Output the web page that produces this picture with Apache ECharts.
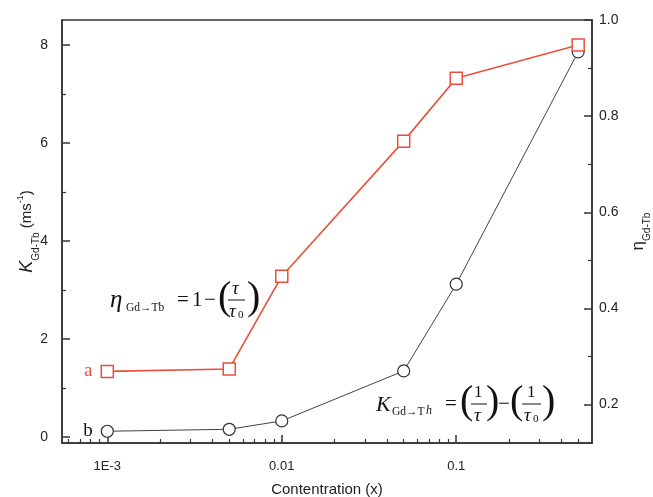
<!DOCTYPE html>
<html><head><meta charset="utf-8">
<script src="https://cdn.jsdelivr.net/npm/echarts@6/dist/echarts.min.js"></script>
<style>html,body{margin:0;padding:0;background:#fff}#c{width:653px;height:497px}</style>
</head><body><div id="c"></div>
<script>
// ---- data ----
const concentrations = [0.001, 0.005, 0.01, 0.05, 0.1, 0.5];
const etaValues = [0.269, 0.274, 0.467, 0.748, 0.879, 0.948];   // curve a (red), right axis
const kValues = [0.12, 0.16, 0.33, 1.35, 3.12, 7.86];            // curve b (black), left axis
const seriesNames = ['a', 'b'];
const xMajorTicks = [0.001, 0.01, 0.1];
const xTickLabels = ['1E-3', '0.01', '0.1'];
const xMinorTicks = [0.0006, 0.0007, 0.0008, 0.0009,
  0.002, 0.003, 0.004, 0.005, 0.006, 0.007, 0.008, 0.009,
  0.02, 0.03, 0.04, 0.05, 0.06, 0.07, 0.08, 0.09,
  0.2, 0.3, 0.4, 0.5];
const leftMajorTicks = [0, 2, 4, 6, 8];
const leftMinorTicks = [1, 3, 5, 7];
const rightMajorTicks = [0.2, 0.4, 0.6, 0.8, 1.0];
const rightTickLabels = ['0.2', '0.4', '0.6', '0.8', '1.0'];
const rightMinorTicks = [0.3, 0.5, 0.7, 0.9];

const RED = '#e8503a';
const AX = '#333';
const SANS = 'Liberation Sans';
const SERIF = 'Liberation Serif';

function nearestLabel(v, ticks, labels) {
  let best = 0, bd = Infinity;
  ticks.forEach((t, i) => { const d = Math.abs(Math.log(v) - Math.log(t)); if (d < bd) { bd = d; best = i; } });
  return labels[best];
}

const chart = echarts.init(document.getElementById('c'), null, { renderer: 'canvas' });

const lineAx = { show: true, onZero: false, lineStyle: { color: AX, width: 1.5 } };
const xBase = { type: 'log', logBase: 10, min: 0.00055, max: 0.6, gridIndex: 0, position: 'bottom', splitLine: { show: false } };

const txt = (x, y, s, size, opt = {}) => ({
  type: 'text', left: x, top: y,
  style: Object.assign({ text: s, fontFamily: SERIF, fontSize: size, fill: '#111' }, opt)
});
const bar = (x1, x2, y) => ({ type: 'line', shape: { x1, y1: y, x2, y2: y }, style: { stroke: '#111', lineWidth: 1 } });

const graphics = [
  // eta formula
  txt(110, 288, 'η', 25, { fontStyle: 'italic' }),
  txt(126, 302, 'Gd→Tb', 11.5),
  txt(177, 290, '=', 21),
  txt(192, 290, '1', 21),
  txt(204, 290, '−', 21),
  txt(218, 278, '(', 40),
  txt(232, 279, 'τ', 19, { fontStyle: 'italic' }),
  bar(228, 245, 300),
  txt(229, 302, 'τ', 19, { fontStyle: 'italic' }),
  txt(238, 310, '0', 11),
  txt(247, 278, ')', 40),
  // K formula
  txt(376, 394, 'K', 22, { fontStyle: 'italic' }),
  txt(392, 406, 'Gd→T', 11.5),
  txt(426, 405, 'h', 12, { fontStyle: 'italic' }),
  txt(445, 394, '=', 21),
  txt(460, 382, '(', 40),
  txt(474, 384, '1', 17),
  bar(471, 487, 404),
  txt(474, 406, 'τ', 19, { fontStyle: 'italic' }),
  txt(486, 382, ')', 40),
  txt(498, 394, '−', 21),
  txt(510, 382, '(', 40),
  txt(527, 384, '1', 17),
  bar(522, 541, 404),
  txt(524, 406, 'τ', 19, { fontStyle: 'italic' }),
  txt(533, 414, '0', 11),
  txt(542, 382, ')', 40)
];

const option = {
  backgroundColor: '#fff',
  animation: false,
  grid: { left: 62, top: 20, width: 530, height: 423, show: true, borderColor: AX, borderWidth: 1.5,
    backgroundColor: 'transparent', containLabel: false, outerBoundsMode: 'none' },
  xAxis: [
    Object.assign({}, xBase, {
      axisLine: lineAx,
      axisTick: { show: true, inside: true, length: 8, customValues: xMajorTicks, lineStyle: { color: AX, width: 1.5 } },
      axisLabel: { show: true, customValues: xMajorTicks, formatter: v => nearestLabel(v, xMajorTicks, xTickLabels),
        fontFamily: SANS, fontSize: 13, color: '#222', margin: 17 },
      name: 'Contentration (x)', nameLocation: 'middle', nameGap: 39, nameMoveOverlap: false,
      nameTextStyle: { fontFamily: SANS, fontSize: 15, color: '#222' }
    }),
    Object.assign({}, xBase, {
      axisLine: { show: false, onZero: false },
      axisTick: { show: true, inside: true, length: 4, customValues: xMinorTicks, lineStyle: { color: AX, width: 1.2 } },
      axisLabel: { show: false }
    })
  ],
  yAxis: [
    { type: 'value', min: -0.12, max: 8.51, position: 'left', splitLine: { show: false },
      axisLine: lineAx,
      axisTick: { show: true, inside: true, length: 8, customValues: leftMajorTicks, lineStyle: { color: AX, width: 1.5 } },
      axisLabel: { customValues: leftMajorTicks, fontFamily: SANS, fontSize: 14, color: '#222', margin: 14 },
      name: '{k|K}{sub|Gd-Tb}{n| (ms}{sup|-1}{n|)}', nameLocation: 'middle', nameGap: 24, nameRotate: 90, nameMoveOverlap: false,
      nameTextStyle: { color: '#222', fontFamily: SANS, fontSize: 15,
        rich: {
          k: { fontFamily: SANS, fontSize: 18, fontStyle: 'italic', lineHeight: 22, verticalAlign: 'middle' },
          n: { fontFamily: SANS, fontSize: 15, lineHeight: 22, verticalAlign: 'middle' },
          sub: { fontFamily: SANS, fontSize: 10, lineHeight: 22, verticalAlign: 'bottom', padding: [0, 0, -3, 0] },
          sup: { fontFamily: SANS, fontSize: 9, lineHeight: 22, verticalAlign: 'top' }
        } } },
    { type: 'value', min: 0.12, max: 1.0, position: 'right', splitLine: { show: false },
      axisLine: lineAx,
      axisTick: { show: true, inside: true, length: 8, customValues: rightMajorTicks, lineStyle: { color: AX, width: 1.5 } },
      axisLabel: { customValues: rightMajorTicks, formatter: v => rightTickLabels[rightMajorTicks.findIndex(t => Math.abs(t - v) < 1e-6)],
        fontFamily: SANS, fontSize: 14, color: '#222', margin: 7 },
      name: '{e|η}{sub|Gd-Tb}', nameLocation: 'middle', nameGap: 34, nameRotate: 90,
      nameTextStyle: { color: '#222', fontFamily: SANS, fontSize: 15,
        rich: {
          e: { fontFamily: SANS, fontSize: 17, lineHeight: 22, verticalAlign: 'middle' },
          sub: { fontFamily: SANS, fontSize: 10, lineHeight: 22, verticalAlign: 'bottom', padding: [0, 0, -3, 0] }
        } } },
    { type: 'value', min: -0.12, max: 8.51, position: 'left', splitLine: { show: false },
      axisLine: { show: false, onZero: false }, axisLabel: { show: false },
      axisTick: { show: true, inside: true, length: 4, customValues: leftMinorTicks, lineStyle: { color: AX, width: 1.2 } } },
    { type: 'value', min: 0.12, max: 1.0, position: 'right', splitLine: { show: false },
      axisLine: { show: false, onZero: false }, axisLabel: { show: false },
      axisTick: { show: true, inside: true, length: 4, customValues: rightMinorTicks, lineStyle: { color: AX, width: 1.2 } } }
  ],
  series: [
    { name: seriesNames[0], type: 'line', xAxisIndex: 0, yAxisIndex: 1, z: 3,
      data: concentrations.map((c, i) => i === 0
        ? { value: [c, etaValues[i]], label: { show: true, position: 'left', distance: 8, formatter: seriesNames[0], fontFamily: SERIF, fontSize: 19, color: RED } }
        : [c, etaValues[i]]),
      symbol: 'rect', symbolSize: 12,
      itemStyle: { color: '#fff', borderColor: RED, borderWidth: 1.5 },
      lineStyle: { color: RED, width: 1.6 } },
    { name: seriesNames[1], type: 'line', xAxisIndex: 0, yAxisIndex: 0, z: 2,
      data: concentrations.map((c, i) => i === 0
        ? { value: [c, kValues[i]], label: { show: true, position: 'left', distance: 8, formatter: seriesNames[1], fontFamily: SERIF, fontSize: 19, color: '#111' } }
        : [c, kValues[i]]),
      symbol: 'circle', symbolSize: 12,
      itemStyle: { color: '#fff', borderColor: '#333', borderWidth: 1.2 },
      lineStyle: { color: '#444', width: 1 } }
  ],
  graphic: graphics
};
chart.setOption(option);
</script>
</body></html>
